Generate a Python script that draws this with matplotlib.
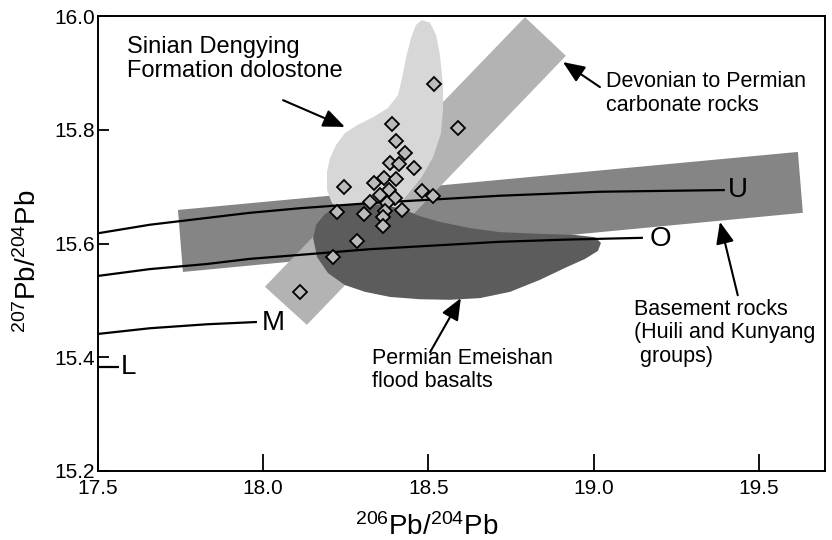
import matplotlib
matplotlib.use('Agg')
import matplotlib.pyplot as plt
from matplotlib.patches import Polygon

plt.rcParams['font.family'] = ['Liberation Sans', 'DejaVu Sans']
plt.rcParams['mathtext.fontset'] = 'custom'
plt.rcParams['mathtext.rm'] = 'Liberation Sans'
plt.rcParams['mathtext.it'] = 'Liberation Sans:italic'
plt.rcParams['mathtext.bf'] = 'Liberation Sans:bold'

# ---- sample data (diamonds) ----
pb206 = [18.517, 18.589, 18.390, 18.402, 18.429, 18.384, 18.411, 18.456,
         18.244, 18.335, 18.365, 18.402, 18.480, 18.514, 18.381, 18.353,
         18.323, 18.399, 18.375, 18.420, 18.223, 18.305, 18.368, 18.362,
         18.362, 18.284, 18.211, 18.111]
pb207 = [15.880, 15.803, 15.810, 15.780, 15.759, 15.742, 15.740, 15.733,
         15.699, 15.706, 15.715, 15.713, 15.692, 15.684, 15.694, 15.685,
         15.673, 15.680, 15.671, 15.659, 15.655, 15.652, 15.657, 15.647,
         15.631, 15.604, 15.576, 15.515]

# ---- field outlines ----
basement_x = [17.742, 19.618, 19.633, 17.757]
basement_y = [15.659, 15.761, 15.654, 15.550]

devonian_x = [18.132, 18.005, 18.792, 18.916]
devonian_y = [15.457, 15.524, 15.998, 15.930]

sinian_x = [18.480, 18.505, 18.523, 18.535, 18.544, 18.544, 18.538, 18.514,
            18.480, 18.444, 18.408, 18.353, 18.293, 18.238, 18.208, 18.193,
            18.193, 18.202, 18.220, 18.247, 18.284, 18.329, 18.377, 18.408,
            18.420, 18.432, 18.447, 18.462]
sinian_y = [15.993, 15.988, 15.967, 15.931, 15.879, 15.835, 15.794, 15.752,
            15.717, 15.691, 15.666, 15.652, 15.648, 15.657, 15.671, 15.694,
            15.726, 15.750, 15.773, 15.794, 15.808, 15.821, 15.838, 15.861,
            15.891, 15.926, 15.961, 15.984]

emeishan_x = [18.151, 18.160, 18.187, 18.232, 18.293, 18.368, 18.429, 18.474,
              18.535, 18.626, 18.716, 18.837, 18.943, 19.004, 19.022, 19.013,
              18.974, 18.913, 18.837, 18.747, 18.656, 18.565, 18.474, 18.384,
              18.308, 18.247, 18.196, 18.163]
emeishan_y = [15.610, 15.633, 15.652, 15.666, 15.671, 15.668, 15.659, 15.648,
              15.638, 15.627, 15.620, 15.617, 15.615, 15.611, 15.601, 15.587,
              15.573, 15.557, 15.536, 15.515, 15.504, 15.501, 15.502, 15.506,
              15.515, 15.527, 15.548, 15.576]

# ---- growth curves ----
U_x = [17.500, 17.657, 17.830, 17.960, 18.111, 18.323, 18.535, 18.716, 19.019, 19.397]
U_y = [15.618, 15.633, 15.645, 15.654, 15.662, 15.671, 15.678, 15.684, 15.691, 15.694]
O_x = [17.500, 17.657, 17.830, 17.960, 18.111, 18.323, 18.535, 18.716, 18.928, 19.149]
O_y = [15.543, 15.555, 15.564, 15.573, 15.580, 15.590, 15.597, 15.603, 15.607, 15.610]
M_x = [17.500, 17.657, 17.830, 17.981]
M_y = [15.441, 15.451, 15.458, 15.462]
L_x = [17.500, 17.564]
L_y = [15.383, 15.383]

xticks = [17.5, 18.0, 18.5, 19.0, 19.5]
yticks = [15.2, 15.4, 15.6, 15.8, 16.0]

fig = plt.figure(figsize=(8.32, 5.40), dpi=100)
ax = fig.add_axes([98/832, 69/540, 727/832, 455/540])
ax.set_xlim(17.5, 19.7)
ax.set_ylim(15.2, 16.0)

ax.add_patch(Polygon(list(zip(basement_x, basement_y)), closed=True,
                     facecolor='#858585', edgecolor='none', zorder=1))
ax.add_patch(Polygon(list(zip(devonian_x, devonian_y)), closed=True,
                     facecolor='#b3b3b3', edgecolor='none', zorder=2))
ax.add_patch(Polygon(list(zip(sinian_x, sinian_y)), closed=True,
                     facecolor='#d7d7d7', edgecolor='none', zorder=3))
ax.add_patch(Polygon(list(zip(emeishan_x, emeishan_y)), closed=True,
                     facecolor='#5c5c5c', edgecolor='none', zorder=4))

for cx, cy in [(U_x, U_y), (O_x, O_y), (M_x, M_y), (L_x, L_y)]:
    ax.plot(cx, cy, color='black', lw=1.6, zorder=5, solid_capstyle='butt')

ax.plot(pb206, pb207, linestyle='none', marker='D', ms=7.5,
        mfc='#bababa', mec='black', mew=1.3, zorder=6)

cfs = 20
ax.text(19.406, 15.694, 'U', fontsize=cfs, va='center', ha='left', zorder=7)
ax.text(19.170, 15.608, 'O', fontsize=cfs, va='center', ha='left', zorder=7)
ax.text(17.996, 15.461, 'M', fontsize=cfs, va='center', ha='left', zorder=7)
ax.text(17.570, 15.383, 'L', fontsize=cfs, va='center', ha='left', zorder=7)

tfs = 15.5
ax.text(17.588, 15.924, 'Sinian Dengying\nFormation dolostone', fontsize=17,
        va='center', ha='left', linespacing=1.1, zorder=7)
ax.text(19.037, 15.864, 'Devonian to Permian\ncarbonate rocks', fontsize=tfs,
        va='center', ha='left', linespacing=1.15, zorder=7)
ax.text(19.122, 15.443, 'Basement rocks\n(Huili and Kunyang\n groups)', fontsize=tfs,
        va='center', ha='left', linespacing=1.15, zorder=7)
ax.text(18.329, 15.378, 'Permian Emeishan\nflood basalts', fontsize=tfs,
        va='center', ha='left', linespacing=1.15, zorder=7)

arrows = [((18.060, 15.852), (18.247, 15.805)),
          ((19.019, 15.875), (18.907, 15.919)),
          ((19.436, 15.509), (19.382, 15.638)),
          ((18.505, 15.409), (18.598, 15.504))]
for tail, tip in arrows:
    ax.annotate('', xy=tip, xytext=tail,
                arrowprops=dict(arrowstyle='-|>,head_length=0.6,head_width=0.25',
                                color='black', lw=1.5,
                                mutation_scale=22, shrinkA=0, shrinkB=0),
                zorder=8)

ax.set_xticks(xticks)
ax.set_xticklabels(['17.5', '18.0', '18.5', '19.0', '19.5'])
ax.set_yticks(yticks)
ax.set_yticklabels(['15.2', '15.4', '15.6', '15.8', '16.0'])
ax.tick_params(axis='x', direction='in', length=12, width=1.3, labelsize=15, pad=6)
ax.tick_params(axis='y', direction='in', length=8, width=1.3, labelsize=15, pad=2)
for s in ax.spines.values():
    s.set_linewidth(1.4)

ax.set_xlabel(r'$^{206}$Pb/$^{204}$Pb', fontsize=20)
ax.set_ylabel(r'$^{207}$Pb/$^{204}$Pb', fontsize=20)
ax.xaxis.set_label_coords(0.452, -0.092)
ax.yaxis.set_label_coords(-0.077, 0.46)

fig.savefig('out.png', dpi=100)
